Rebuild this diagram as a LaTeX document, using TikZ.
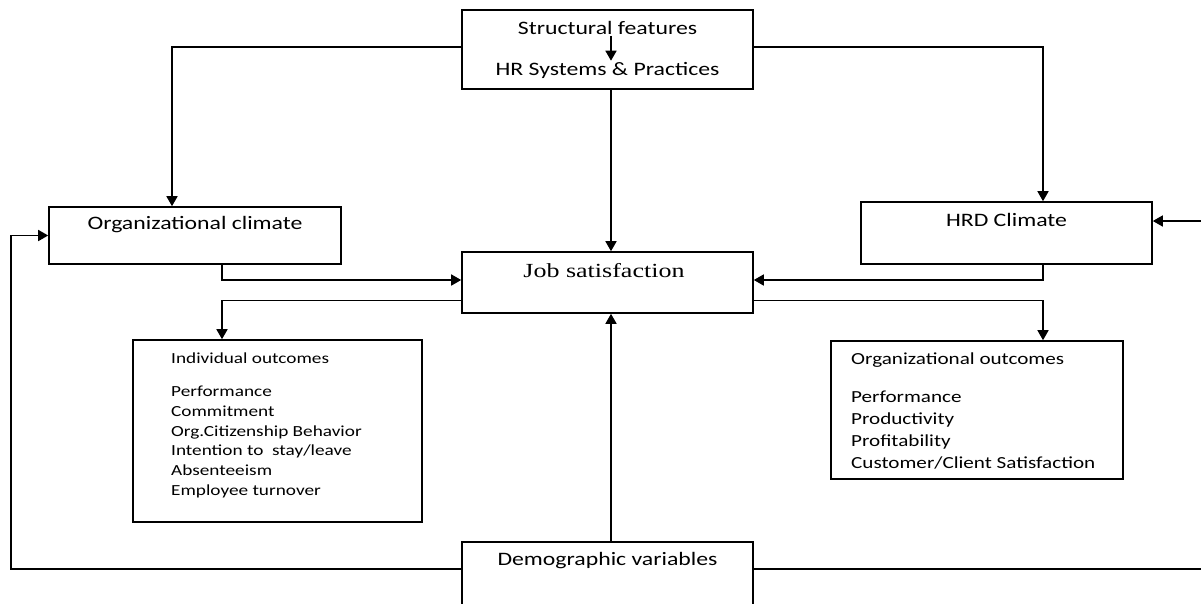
\documentclass[tikz,border=0pt]{standalone}
\usepackage{fontspec}
\setmainfont{Carlito}
\newfontfamily\widesans[FakeStretch=1.25]{Carlito}
\newfontfamily\wideserif[FakeStretch=1.3]{Liberation Serif}
\usetikzlibrary{arrows.meta}

\begin{document}
\begin{tikzpicture}[x=1pt, y=-1pt,
		box/.style={draw, line width=1.6pt, inner sep=0pt},
		lbl/.style={font=\widesans\fontsize{19}{22}\selectfont, inner sep=1pt},
		list/.style={align=left, inner sep=0pt, anchor=north west},
		arr/.style={line width=1.6pt, -{Triangle[length=10pt, width=11pt]}}]
			\clip (0,0) rectangle (1201,603);

			\node[box, minimum width=291pt, minimum height=79pt] (struct) at (607.5, 49.5) {};
			\node[box, minimum width=292pt, minimum height=57pt] (orgclim) at (195, 235.5) {};
			\node[box, minimum width=291pt, minimum height=62pt] (hrd) at (1006.5, 233) {};
			\node[box, minimum width=291pt, minimum height=61pt] (job) at (607.5, 282.5) {};
			\node[box, minimum width=289pt, minimum height=182pt] (indiv) at (277.5, 431) {};
			\node[box, minimum width=292pt, minimum height=138pt] (orgout) at (977, 410) {};
			\node[box, minimum width=291pt, minimum height=88pt] (demo) at (607.5, 586) {};

			\coordinate (lcorner) at (11, 236);
			\coordinate (rcorner) at (1206, 221);

			\node[lbl] (sf) at (607.5, 28) {Structural features};
			\node[lbl] (hr) at (607.5, 70) {HR Systems \& Practices};
			\node[lbl] (orgclimtxt) at (195, 225) {Organizational climate};
			\node[lbl] (hrdtxt) at (1006.5, 220) {HRD Climate};
			\node[font=\wideserif\fontsize{20}{24}\selectfont] (jobtxt) at (604, 271) {Job satisfaction};
			\node[lbl] (demotxt) at (607.5, 561) {Demographic variables};

			\node[list, font=\widesans\fontsize{15.4}{19.7}\selectfont] (indivtxt) at (171, 353) {Individual outcomes\\[13pt]
				Performance\\ Commitment\\ Org.Citizenship Behavior\\ Intention to~ stay/leave\\ Absenteeism\\ Employee turnover};
			\node[list, font=\widesans\fontsize{16.9}{22}\selectfont] (orgouttxt) at (851, 353) {Organizational outcomes\\[16pt]
				Performance\\ Productivity\\ Profitability\\ Customer/Client Satisfaction};

			\draw[arr] ([xshift=3.5pt]sf.south) -- ([xshift=3.5pt]hr.north);
			\draw[arr] ([yshift=2.5pt]struct.west) -| ([xshift=-23pt]orgclim.north);
			\draw[arr] ([yshift=2.5pt]struct.east) -| ([xshift=36.5pt]hrd.north);
			\draw[arr] ([xshift=3.5pt]struct.south) -- ([xshift=3.5pt]job.north);
			\draw[arr] ([xshift=27pt]orgclim.south) |- ([yshift=2.5pt]job.west);
			\draw[arr] ([xshift=36.5pt]hrd.south) |- ([yshift=2.5pt]job.east);
			\draw[arr] ([yshift=-18pt]job.west) -| ([xshift=-55.5pt]indiv.north);
			\draw[arr] ([yshift=-18pt]job.east) -| ([xshift=66pt]orgout.north);
			\draw[arr] ([xshift=3.5pt]demo.north) -- ([xshift=3.5pt]job.south);
			\draw[arr] ([yshift=17pt]demo.west) -| (lcorner) |- (orgclim.west);
			\draw[arr] ([yshift=17pt]demo.east) -| (rcorner) |- ([yshift=12pt]hrd.east);
		\end{tikzpicture}
\end{document}
